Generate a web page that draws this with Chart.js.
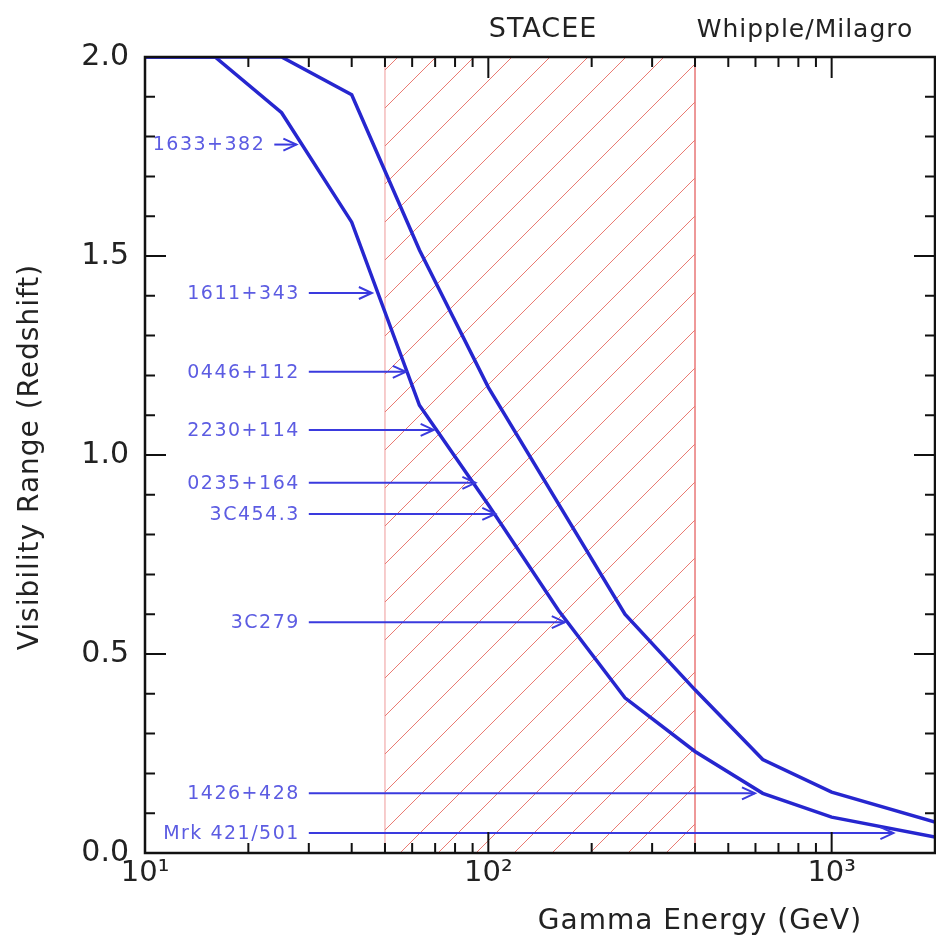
<!DOCTYPE html>
<html>
<head>
<meta charset="utf-8">
<script src="https://cdn.jsdelivr.net/npm/chart.js@4.4.0/dist/chart.umd.min.js"></script>
<style>
  html, body { margin: 0; padding: 0; background: #fff; }
  #wrap { width: 936px; height: 941px; }
</style>
</head>
<body>
<div id="wrap"><canvas id="chart"></canvas></div>
<script>
// curves: visibility range vs gamma energy
const energyLow = [10, 16, 25, 40, 63, 100, 160, 250, 400, 630, 1000, 2000];
const zLow = [2.0, 2.0, 1.86, 1.585, 1.125, 0.875, 0.61, 0.39, 0.255, 0.15, 0.09, 0.04];
const energyHigh = [10, 25, 40, 63, 100, 250, 400, 630, 1000, 2000];
const zHigh = [2.0, 2.0, 1.905, 1.515, 1.17, 0.60, 0.41, 0.235, 0.153, 0.078];

// STACEE energy window (GeV)
const staceeBand = [50, 400];

// sources pointed at with arrows
const sourceNames = ["1633+382", "1611+343", "0446+112", "2230+114", "0235+164", "3C454.3", "3C279", "1426+428", "Mrk 421/501"];
const sourceZ = [1.78, 1.407, 1.209, 1.063, 0.93, 0.852, 0.58, 0.15, 0.05];
const arrowFrom = [23.8, 30, 30, 30, 30, 30, 30, 30, 30];
const arrowTo = [27.6, 45.8, 57.5, 69.3, 91.7, 104.8, 167, 598, 1513];

const xTickLabels = { 10: "10\u00B9", 100: "10\u00B2", 1000: "10\u00B3" };

const FONT = "'DejaVu Sans', sans-serif";
const BLUE = "#2626cf";
const ARROW = "#3a3ade";
const LABEL = "#5c5ce2";

const datasets = [];
// border of the STACEE window
datasets.push({
    isBand: true,
    data: [
        { x: staceeBand[0], y: 0 }, { x: staceeBand[0], y: 2 },
        { x: staceeBand[1], y: 2 }, { x: staceeBand[1], y: 0 }
    ],
    borderColor: "rgba(232, 120, 120, 0.75)",
    borderWidth: 1,
    fill: false,
    pointRadius: 0,
    order: 10
});
datasets.push({
    data: energyLow.map((e, i) => ({ x: e, y: zLow[i] })),
    borderColor: BLUE, borderWidth: 3.5, pointRadius: 0, fill: false, order: 1
});
datasets.push({
    data: energyHigh.map((e, i) => ({ x: e, y: zHigh[i] })),
    borderColor: BLUE, borderWidth: 3.5, pointRadius: 0, fill: false, order: 1
});
sourceNames.forEach((name, i) => {
    datasets.push({
        label: name,
        isArrow: true,
        data: [{ x: arrowFrom[i], y: sourceZ[i] }, { x: arrowTo[i], y: sourceZ[i] }],
        borderColor: ARROW, borderWidth: 2, pointRadius: 0, fill: false, order: 2
    });
});

// diagonal hatching inside the STACEE window
const hatchPlugin = {
    id: "hatch",
    beforeDatasetsDraw(chart) {
        const ctx = chart.ctx;
        const xs = chart.scales.x;
        const { top, bottom } = chart.chartArea;
        const x0 = xs.getPixelForValue(staceeBand[0]);
        const x1 = xs.getPixelForValue(staceeBand[1]);
        const step = 38;
        ctx.save();
        ctx.beginPath();
        ctx.rect(x0, top, x1 - x0, bottom - top);
        ctx.clip();
        ctx.strokeStyle = "rgba(226, 70, 60, 0.72)";
        ctx.lineWidth = 1;
        ctx.beginPath();
        let c = Math.floor((x0 + top) / step) * step + 37;
        for (; c < x1 + bottom + step; c += step) {
            ctx.moveTo(c - bottom, bottom);
            ctx.lineTo(c - top, top);
        }
        ctx.stroke();
        ctx.restore();
    }
};

// arrow heads and source labels
const arrowPlugin = {
    id: "arrows",
    afterDatasetsDraw(chart) {
        const ctx = chart.ctx;
        ctx.save();
        chart.data.datasets.forEach((ds, i) => {
            if (!ds.isArrow) return;
            const pts = chart.getDatasetMeta(i).data;
            const a = pts[0], b = pts[1];
            ctx.strokeStyle = ARROW;
            ctx.lineWidth = 2;
            ctx.beginPath();
            ctx.moveTo(b.x - 13, b.y - 6);
            ctx.lineTo(b.x, b.y);
            ctx.lineTo(b.x - 13, b.y + 6);
            ctx.stroke();
            ctx.fillStyle = LABEL;
            ctx.font = "19px " + FONT;
            ctx.letterSpacing = "1.5px";
            ctx.textAlign = "right";
            ctx.textBaseline = "middle";
            ctx.fillText(ds.label, a.x - 9, a.y + 1);
        });
        ctx.restore();
    }
};

// IDL style frame with inward ticks, titles
const framePlugin = {
    id: "frame",
    afterDraw(chart) {
        const ctx = chart.ctx;
        const { left, right, top, bottom } = chart.chartArea;
        const xs = chart.scales.x, ys = chart.scales.y;
        ctx.save();
        ctx.strokeStyle = "#111";
        ctx.lineWidth = 2;
        // x ticks
        for (let d = 10; d <= 1000; d *= 10) {
            for (let m = 1; m <= 9; m++) {
                const v = d * m;
                if (v > 2000) break;
                const px = xs.getPixelForValue(v);
                const len = m === 1 ? 21 : 10;
                ctx.beginPath();
                ctx.moveTo(px, bottom); ctx.lineTo(px, bottom - len);
                ctx.moveTo(px, top); ctx.lineTo(px, top + len);
                ctx.stroke();
            }
        }
        // y ticks
        for (let k = 0; k <= 20; k++) {
            const py = ys.getPixelForValue(k / 10);
            const len = k % 5 === 0 ? 21 : 10;
            ctx.beginPath();
            ctx.moveTo(left, py); ctx.lineTo(left + len, py);
            ctx.moveTo(right, py); ctx.lineTo(right - len, py);
            ctx.stroke();
        }
        ctx.lineWidth = 2.5;
        ctx.strokeRect(left, top, right - left, bottom - top);

        ctx.fillStyle = "#222";
        ctx.letterSpacing = "1px";
        ctx.textBaseline = "alphabetic";
        ctx.textAlign = "center";
        ctx.font = "27px " + FONT;
        ctx.fillText("STACEE", 543, 37);
        ctx.font = "25px " + FONT;
        ctx.fillText("Whipple/Milagro", 805, 37);
        ctx.font = "28px " + FONT;
        ctx.fillText("Gamma Energy (GeV)", 700, 929);
        ctx.translate(38, 457);
        ctx.rotate(-Math.PI / 2);
        ctx.fillText("Visibility Range (Redshift)", 0, 0);
        ctx.restore();
    }
};

new Chart(document.getElementById("chart"), {
    type: "line",
    data: { datasets: datasets },
    plugins: [hatchPlugin, arrowPlugin, framePlugin],
    options: {
        responsive: true,
        maintainAspectRatio: false,
        animation: false,
        layout: { padding: { top: 57, right: 1, left: 0, bottom: 0 } },
        plugins: { legend: { display: false }, tooltip: { enabled: false } },
        scales: {
            x: {
                type: "logarithmic",
                min: 10,
                max: 2000,
                afterFit: (s) => { s.height = 88; },
                afterBuildTicks: (s) => { s.ticks = [10, 100, 1000].map(v => ({ value: v })); },
                grid: { display: false, drawTicks: false },
                border: { display: false },
                ticks: {
                    padding: 3,
                    autoSkip: false,
                    maxRotation: 0,
                    color: "#222",
                    font: { family: FONT, size: 29 },
                    callback: (v) => xTickLabels[v] || ""
                }
            },
            y: {
                type: "linear",
                min: 0,
                max: 2,
                afterFit: (s) => { s.width = 145; },
                grid: { display: false, drawTicks: false },
                border: { display: false },
                ticks: {
                    stepSize: 0.5,
                    padding: 16,
                    color: "#222",
                    font: { family: FONT, size: 30 },
                    callback: (v) => v.toFixed(1)
                }
            }
        }
    }
});
</script>
</body>
</html>
